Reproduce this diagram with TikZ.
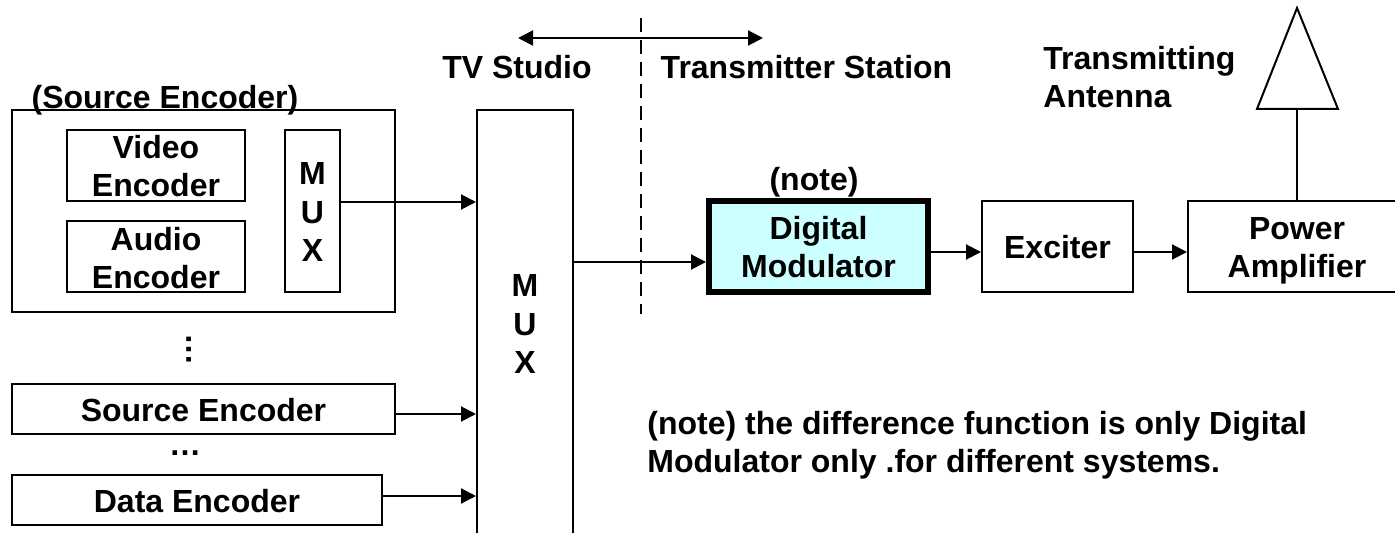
\documentclass[tikz,border=0pt]{standalone}
\usepackage{fontspec}
\setmainfont{Liberation Sans}
\usepackage{tikz}
\usetikzlibrary{calc,positioning,arrows.meta}
\definecolor{modcyan}{RGB}{204,255,255}
\tikzset{
  lbl/.style={font=\fontsize{16}{19.25}\selectfont\bfseries,align=center,inner sep=0pt},
  blockbox/.style={lbl,draw=black,line width=1pt,fill=white,inner sep=0pt},
  raised/.style={text height=#1,text depth=0pt},
  conn/.style={line width=1pt,-{Triangle[length=7.5pt,width=7.5pt]}},
}
\begin{document}
\begin{tikzpicture}[x=0.5pt,y=-0.5pt]
      \useasboundingbox (0,0) rectangle (1395,533);
      \node[blockbox,line width=1.2pt,minimum width=191.5pt,minimum height=101pt] (srcgroup) at (203.5,211) {};
      \node[lbl] (srctitle) at (165,100) {(Source Encoder)};
      \node[blockbox,raised=31.5pt,minimum width=89pt,minimum height=35.5pt] (videoenc) at (156,165.5) {Video\\Encoder};
      \node[blockbox,raised=32.5pt,minimum width=89pt,minimum height=35.5pt] (audioenc) at (156,256.5) {Audio\\Encoder};
      \node[blockbox,raised=51pt,minimum width=27.5pt,minimum height=81pt] (srcmux) at (312.5,211) {M\\U\\X};
      \node[lbl,rotate=90] (vdots) at (189,350) {…};
      \node[blockbox,raised=12.7pt,line width=1.2pt,minimum width=191.5pt,minimum height=25pt] (srcenc) at (203.5,409) {Source Encoder};
      \node[lbl] (hdots) at (185,453) {…};
      \node[blockbox,raised=12.7pt,line width=1.2pt,minimum width=185pt,minimum height=25pt] (dataenc) at (197,500) {Data Encoder};
      \node[blockbox,minimum width=48pt,minimum height=225pt] (bigmux) at (525,335) {};
      \node[lbl] (bigmuxtxt) at (525,324) {M\\U\\X};
      \node[blockbox,raised=31.5pt,line width=3pt,fill=modcyan,minimum width=109.5pt,minimum height=45.5pt] (digmod) at (818.5,246.5) {Digital\\Modulator};
      \node[lbl] (notemark) at (814,182) {(note)};
      \node[blockbox,raised=11.8pt,minimum width=75.5pt,minimum height=45.5pt] (exciter) at (1057.5,246.5) {Exciter};
      \node[blockbox,raised=31.5pt,minimum width=109pt,minimum height=45.5pt] (poweramp) at (1297,246.5) {Power\\Amplifier};
      \node[lbl] (studio) at (517,67) {TV Studio};
      \node[lbl] (station) at (806.5,67) {Transmitter Station};
      \node[lbl,align=left,anchor=west] (anttxt) at (1043,77) {Transmitting\\Antenna};
      \node[lbl,align=left,anchor=west] (notetxt) at (647,445) {(note) the difference function is only Digital\\Modulator only .for different systems.};
      \coordinate (dashtop) at (641,18);
      \coordinate (dashbot) at (641,314);
      \coordinate (leftend) at (518,38);
      \coordinate (rightend) at (763,38);
      \coordinate (antbase) at (1297,109);
      \coordinate (srcout) at (srcenc.east |- 0,414);
      \coordinate (dataout) at (dataenc.east |- 0,496);
      \coordinate (modin) at (digmod.west |- 0,262);
      \coordinate (modout) at (digmod.east |- 0,252);
      \draw[line width=1pt,dash pattern=on 7pt off 4pt] (dashtop) -- (dashbot);
      \draw[line width=1pt,{Triangle[length=7.5pt,width=7.5pt]}-{Triangle[length=7.5pt,width=7.5pt]}] (leftend) -- (rightend);
      \draw[conn] (srcmux.east |- videoenc.south) -- (bigmux.west |- videoenc.south);
      \draw[conn] (srcout) -- (bigmux.west |- srcout);
      \draw[conn] (dataout) -- (bigmux.west |- dataout);
      \draw[conn] (bigmux.east |- modin) -- (modin);
      \draw[conn] (modout) -- (exciter.west |- modout);
      \draw[conn] (exciter.east |- modout) -- (poweramp.west |- modout);
      \draw[line width=1pt,line join=miter] (1297,8) -- (1338,109) -- (1257,109) -- cycle;
      \draw[line width=1pt] (antbase) -- (poweramp.north);
    \end{tikzpicture}
\end{document}
